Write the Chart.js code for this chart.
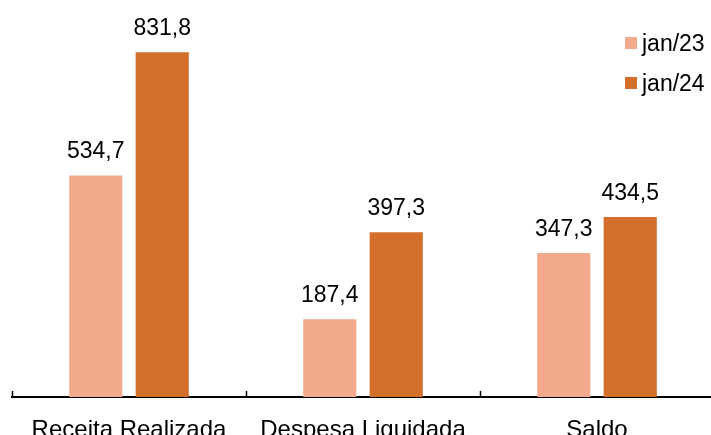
<!DOCTYPE html>
<html>
<head>
<meta charset="utf-8">
<script src="https://cdn.jsdelivr.net/npm/chart.js@4/dist/chart.umd.min.js"></script>
<style>
  html, body { margin: 0; padding: 0; background: #fff; overflow: hidden; }
  #wrap { position: relative; width: 714px; height: 435px; }
  #legend { position: absolute; left: 625px; top: 23px; font-family: "Liberation Sans", Arial, sans-serif; font-size: 23px; color: #000; }
  #legend div { display: flex; align-items: center; height: 40px; }
  #legend span.box { display: inline-block; width: 12px; height: 12px; margin-right: 5px; }
</style>
</head>
<body>
<div id="wrap">
  <canvas id="chart" width="714" height="435"></canvas>
  <div id="legend"></div>
</div>
<script>
// chart values
const categories = ['Receita Realizada', 'Despesa Liquidada', 'Saldo'];
const seriesNames = ['jan/23', 'jan/24'];
const jan23 = [534.7, 187.4, 347.3];
const jan24 = [831.8, 397.3, 434.5];
const colors = ['#F2A98C', '#D36F2B'];

// legend
const legendEl = document.getElementById('legend');
seriesNames.forEach(function (name, i) {
    legendEl.innerHTML += '<div><span class="box" style="background:' + colors[i] + '"></span>' + name + '</div>';
});

// value labels above bars, and short ticks between categories
const labelsPlugin = {
    id: 'labelsPlugin',
    afterDatasetsDraw(chart) {
        const ctx = chart.ctx;
        ctx.save();
        ctx.font = '23px "Liberation Sans", Arial, sans-serif';
        ctx.fillStyle = '#000';
        ctx.textAlign = 'center';
        ctx.textBaseline = 'alphabetic';
        chart.data.datasets.forEach(function (ds, di) {
            chart.getDatasetMeta(di).data.forEach(function (bar, i) {
                ctx.fillText(ds.data[i].toFixed(1).replace('.', ','), bar.x, bar.y - 17);
            });
        });
        const xs = chart.scales.x;
        const step = xs.getPixelForValue(1) - xs.getPixelForValue(0);
        ctx.strokeStyle = '#000';
        ctx.lineWidth = 1.5;
        for (let i = 0; i <= categories.length; i++) {
            const px = Math.round(xs.getPixelForValue(0) - step / 2 + i * step) + 0.5;
            ctx.beginPath();
            ctx.moveTo(px, xs.top);
            ctx.lineTo(px, xs.top - 6);
            ctx.stroke();
        }
        ctx.restore();
    }
};

new Chart(document.getElementById('chart'), {
    type: 'bar',
    data: {
        labels: categories,
        datasets: [
            { label: seriesNames[0], data: jan23, backgroundColor: colors[0] },
            { label: seriesNames[1], data: jan24, backgroundColor: colors[1] }
        ]
    },
    options: {
        responsive: false,
        animation: false,
        categoryPercentage: 0.568,
        barPercentage: 0.8,
        layout: { padding: { left: 12, right: 0, top: 24, bottom: 0 } },
        plugins: { legend: { display: false }, tooltip: { enabled: false } },
        scales: {
            x: {
                grid: { display: false },
                border: { color: '#000', width: 2 },
                afterFit: function (scale) { scale.height = 38; },
                ticks: {
                    color: '#000',
                    padding: 11,
                    font: { family: '"Liberation Sans", Arial, sans-serif', size: 24 }
                }
            },
            y: { display: false, min: 0, max: 900 }
        }
    },
    plugins: [labelsPlugin]
});
</script>
</body>
</html>
